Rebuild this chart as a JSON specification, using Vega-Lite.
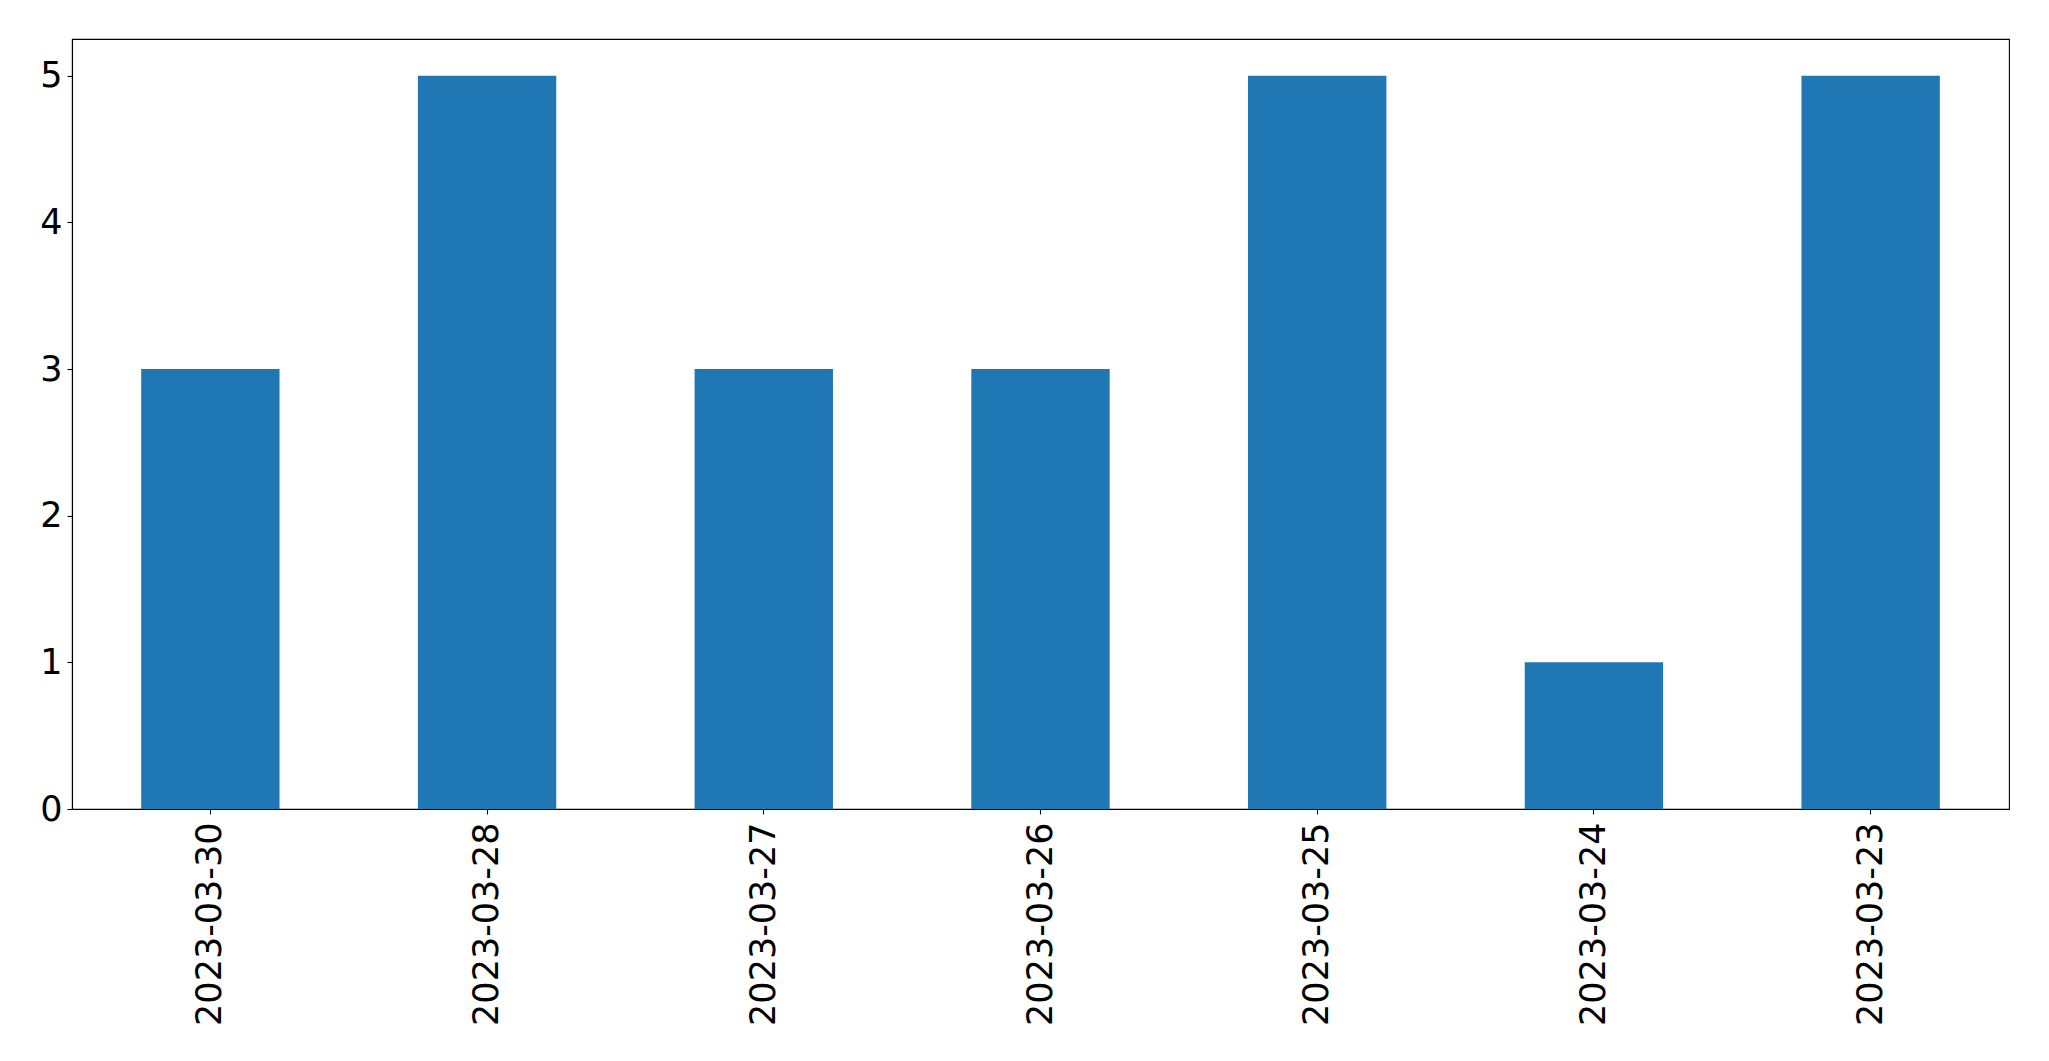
{
  "$schema": "https://vega.github.io/schema/vega-lite/v6.json",
  "width": 1937,
  "height": 770,
  "autosize": {"type": "none"},
  "padding": {"left": 72, "top": 39, "right": 40, "bottom": 252},
  "background": "white",
  "config": {
    "view": {"stroke": "black", "strokeWidth": 1.1},
    "font": "DejaVu Sans",
    "axis": {
      "grid": false,
      "domainColor": "black",
      "domainWidth": 1.1,
      "tickColor": "black",
      "tickWidth": 1.1,
      "tickSize": 5,
      "labelFont": "DejaVu Sans",
      "labelFontSize": 35,
      "labelColor": "black",
      "labelLimit": 0,
      "title": null
    }
  },
  "data": {
    "values": [
      {"date": "2023-03-30", "count": 3},
      {"date": "2023-03-28", "count": 5},
      {"date": "2023-03-27", "count": 3},
      {"date": "2023-03-26", "count": 3},
      {"date": "2023-03-25", "count": 5},
      {"date": "2023-03-24", "count": 1},
      {"date": "2023-03-23", "count": 5}
    ]
  },
  "mark": {"type": "bar", "color": "#1f77b4"},
  "encoding": {
    "x": {
      "field": "date",
      "type": "nominal",
      "sort": null,
      "scale": {"paddingInner": 0.5, "paddingOuter": 0.25},
      "axis": {"labelAngle": 270, "labelPadding": 8, "labelLimit": 0, "title": null}
    },
    "y": {
      "field": "count",
      "type": "quantitative",
      "scale": {"domain": [0, 5.25], "nice": false},
      "axis": {"values": [0, 1, 2, 3, 4, 5], "labelPadding": 5, "title": null}
    }
  }
}
